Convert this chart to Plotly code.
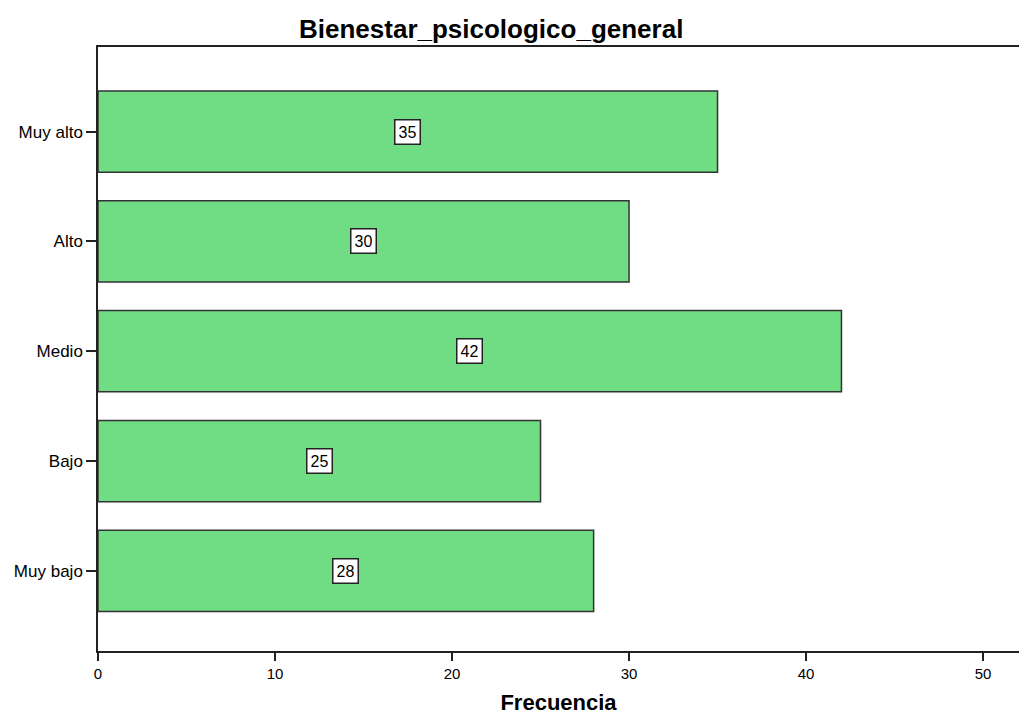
import plotly.graph_objects as go

categories = ["Muy bajo", "Bajo", "Medio", "Alto", "Muy alto"]
values = [28, 25, 42, 30, 35]
x_ticks = [0, 10, 20, 30, 40, 50]

FONT = "Liberation Sans, Arial, sans-serif"

fig = go.Figure()
fig.add_trace(go.Bar(
    y=categories, x=values, orientation="h", width=0.74,
    marker=dict(color="rgb(112,220,132)", line=dict(color="#333333", width=1.5)),
    hoverinfo="x+y", showlegend=False,
))

for c, v in zip(categories, values):
    fig.add_annotation(
        x=v / 2, y=c, xref="x", yref="y", text=str(v), showarrow=False,
        font=dict(family=FONT, size=16, color="black"),
        bgcolor="white", bordercolor="#222222", borderwidth=1.5, borderpad=3,
    )

L, T, B, W, H = 98, 47, 64, 1019, 715
pw, ph = W - L, H - T - B
fig.add_annotation(
    xref="paper", yref="paper", x=(491 - L) / pw, y=1 + (T - 29) / ph,
    xanchor="center", yanchor="middle", showarrow=False,
    text="<b>Bienestar_psicologico_general</b>",
    font=dict(family=FONT, size=26, color="black"),
)

fig.update_layout(
    width=W, height=H,
    margin=dict(l=L, r=0, t=T, b=B, pad=0),
    paper_bgcolor="white", plot_bgcolor="white",
    font=dict(family=FONT, size=14, color="black"),
    xaxis=dict(
        range=[0, 52.03], tickvals=x_ticks, ticks="outside", ticklen=8, tickwidth=1.5,
        tickcolor="#222", showline=True, linecolor="#222", linewidth=1.5, mirror=True,
        showgrid=False, zeroline=False,
        title=dict(text="<b>Frecuencia</b>", font=dict(size=22), standoff=18),
        tickfont=dict(size=15),
    ),
    yaxis=dict(
        categoryorder="array", categoryarray=categories, range=[-0.73, 4.77],
        ticks="outside", ticklen=10, tickwidth=1.5, tickcolor="#222",
        showline=True, linecolor="#222", linewidth=1.5, showgrid=False, zeroline=False,
        tickfont=dict(size=17),
    ),
)

fig.write_html("out.html", config={"displayModeBar": False},
               post_script="document.body.style.margin='0px';")
